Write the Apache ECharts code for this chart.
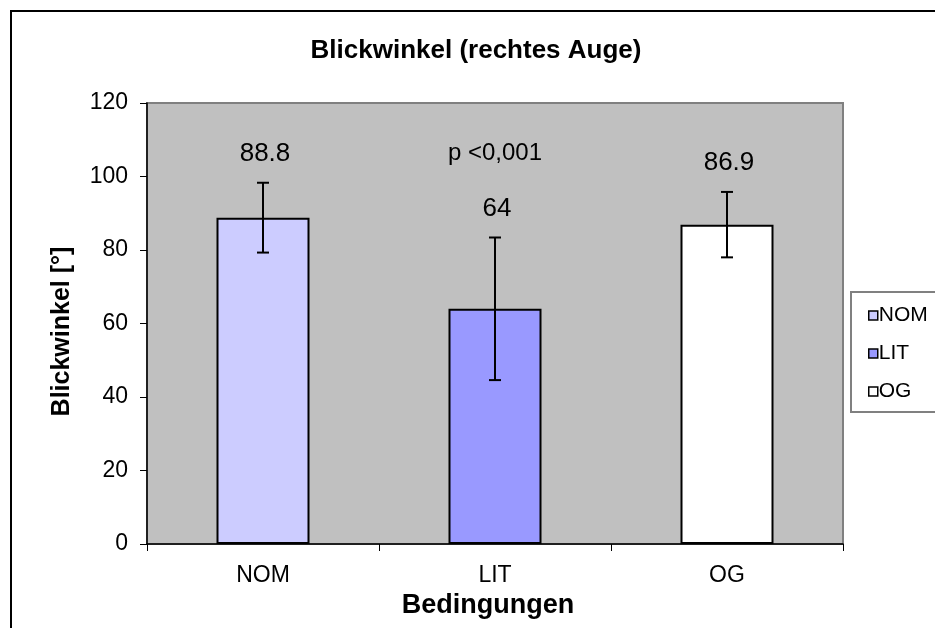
<!DOCTYPE html>
<html><head><meta charset="utf-8">
<script src="https://cdn.jsdelivr.net/npm/echarts@6/dist/echarts.min.js"></script>
<style>html,body{margin:0;padding:0;background:#fff}#c{width:935px;height:628px}</style>
</head><body><div id="c"></div>
<script>
const categories = ['NOM', 'LIT', 'OG'];
const means = [88.8, 64, 86.9];
const errTop = [98.3, 83.4, 95.8];
const errBottom = [79.3, 44.6, 78.0];
const valueLabels = ['88.8', '64', '86.9'];
const colors = ['#CCCCFF', '#9999FF', '#FFFFFF'];
const yTicks = [0, 20, 40, 60, 80, 100, 120];
const note = 'p <0,001';

const F = 'Liberation Sans, Arial, sans-serif';
const chart = echarts.init(document.getElementById('c'), null, {renderer: 'canvas'});

const barSeries = categories.map((name, i) => ({
  name: name,
  type: 'bar',
  barWidth: 93,
  barGap: '-100%',
  data: categories.map((c, j) => j === i ? means[j] : '-'),
  itemStyle: {color: colors[i], borderColor: '#000', borderWidth: 2},
  z: 2
}));

const errSeries = {
  type: 'custom',
  name: 'err',
  z: 5,
  data: categories.map((c, i) => [i, errBottom[i], errTop[i]]),
  renderItem: function (params, api) {
    const i = api.value(0);
    const lo = api.coord([i, api.value(1)]);
    const hi = api.coord([i, api.value(2)]);
    const w = 6;
    const st = {stroke: '#000', lineWidth: 2};
    const children = [
      {type: 'line', shape: {x1: hi[0], y1: hi[1], x2: lo[0], y2: lo[1]}, style: st},
      {type: 'line', shape: {x1: hi[0] - w, y1: hi[1], x2: hi[0] + w, y2: hi[1]}, style: st},
      {type: 'line', shape: {x1: lo[0] - w, y1: lo[1], x2: lo[0] + w, y2: lo[1]}, style: st},
      {type: 'text', style: {text: valueLabels[params.dataIndex], x: hi[0] + 2, y: hi[1] - 29,
        textAlign: 'center', textVerticalAlign: 'middle', font: '26px ' + F, fill: '#000'}}
    ];
    if (params.dataIndex === 1) {
      children.push({type: 'text', style: {text: note, x: hi[0], y: hi[1] - 84,
        textAlign: 'center', textVerticalAlign: 'middle', font: '24px ' + F, fill: '#000'}});
    }
    return {type: 'group', children: children};
  }
};

chart.setOption({
  animation: false,
  backgroundColor: '#fff',
  title: {
    text: 'Blickwinkel (rechtes Auge)',
    left: 471, top: 33, textAlign: 'center',
    textStyle: {fontFamily: F, fontSize: 26, fontWeight: 'bold', color: '#000'}
  },
  graphic: [
    {type: 'rect', shape: {x: 11, y: 11, width: 1000, height: 700},
      style: {fill: null, stroke: '#000', lineWidth: 2}, z: 100, silent: true},
    {type: 'rect', shape: {x: 851, y: 292, width: 100, height: 120},
      style: {fill: '#fff', stroke: '#808080', lineWidth: 2}, z: 0, silent: true}
  ],
  legend: {
    orient: 'vertical',
    left: 863, top: 300,
    itemWidth: 9, itemHeight: 9, itemGap: 17,
    icon: 'rect',
    itemStyle: {borderColor: '#000', borderWidth: 1.5},
    textStyle: {fontFamily: F, fontSize: 21, color: '#000', padding: [0, 0, 0, -4]},
    data: categories
  },
  grid: {
    left: 147, top: 103, width: 696, height: 441,
    show: true, backgroundColor: '#C0C0C0', borderColor: '#808080', borderWidth: 2
  },
  xAxis: {
    type: 'category',
    data: categories,
    name: 'Bedingungen',
    nameLocation: 'middle',
    nameGap: 48,
    nameTextStyle: {fontFamily: F, fontSize: 27, fontWeight: 'bold', color: '#000', padding: [0, 14, 0, 0]},
    axisLine: {lineStyle: {color: '#000', width: 1.5}},
    axisTick: {show: true, length: 7, lineStyle: {color: '#000'}},
    axisLabel: {fontFamily: F, fontSize: 23, color: '#000', margin: 20},
    z: 10
  },
  yAxis: {
    type: 'value',
    min: yTicks[0], max: yTicks[yTicks.length - 1], interval: 20,
    name: 'Blickwinkel [°]',
    nameLocation: 'middle',
    nameGap: 72,
    nameRotate: 90,
    nameTextStyle: {fontFamily: F, fontSize: 25, fontWeight: 'bold', color: '#000', padding: [0, 16, 0, 0]},
    axisLine: {show: true, lineStyle: {color: '#000', width: 1.5}},
    axisTick: {show: true, length: 7, lineStyle: {color: '#000'}},
    axisLabel: {fontFamily: F, fontSize: 23, color: '#000', margin: 19},
    splitLine: {show: false},
    z: 10
  },
  series: barSeries.concat([errSeries])
});
</script></body></html>
